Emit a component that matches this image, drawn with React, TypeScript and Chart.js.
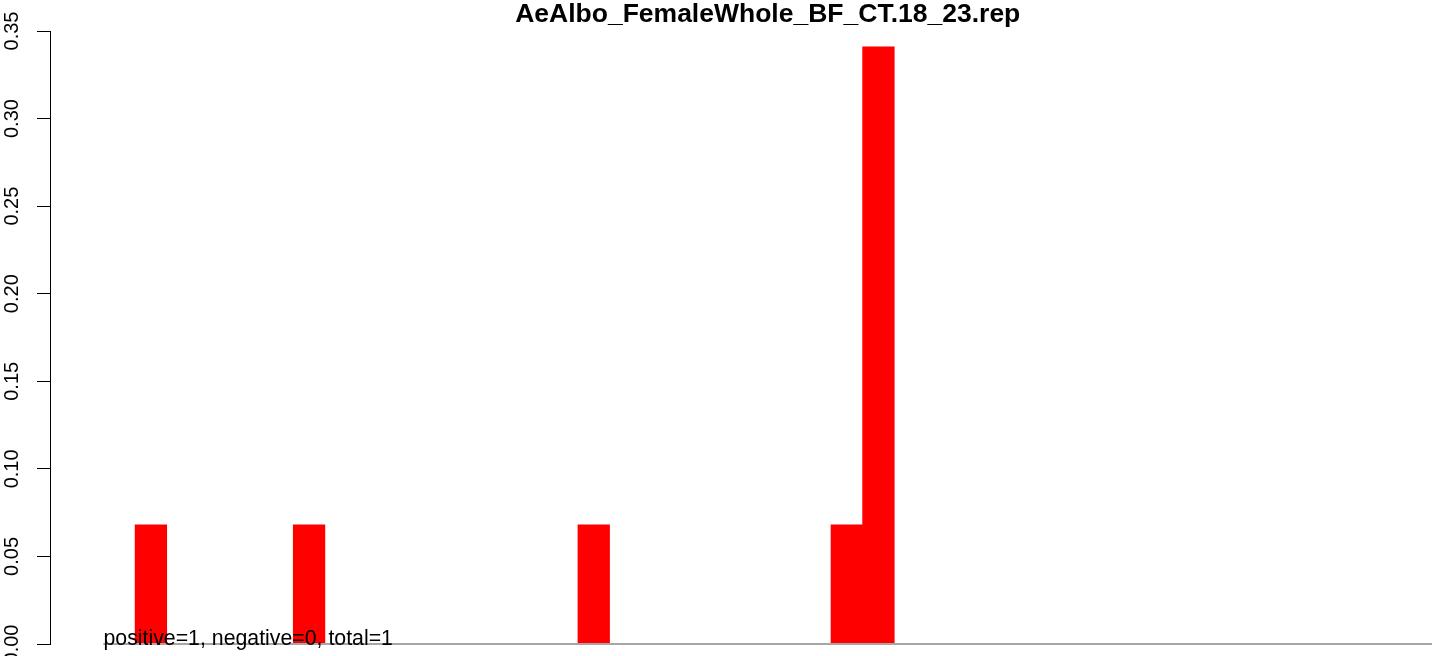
import React, { useEffect, useRef } from "react";
import { Chart, registerables } from "chart.js";

Chart.register(...registerables);

const chartTitle = "AeAlbo_FemaleWhole_BF_CT.18_23.rep";
const footerText = "positive=1, negative=0, total=1";

// 42 histogram bins (bin i spans [i, i+1])
const binValues = [
  0, 0.068, 0, 0, 0, 0, 0.068, 0, 0, 0,
  0, 0, 0, 0, 0, 0.068, 0, 0, 0, 0,
  0, 0, 0, 0.068, 0.341, 0, 0, 0, 0, 0,
  0, 0, 0, 0, 0, 0, 0, 0, 0, 0,
  0, 0,
];

const yTickLabels = ["0.00", "0.05", "0.10", "0.15", "0.20", "0.25", "0.30", "0.35"];
const yTickValues = [0, 0.05, 0.1, 0.15, 0.2, 0.25, 0.3, 0.35];

const FONT = "'Liberation Sans', Arial, Helvetica, sans-serif";

const overlayPlugin = {
  id: "overlay",
  afterDraw(chart: any) {
    const ctx = chart.ctx as CanvasRenderingContext2D;
    const xs = chart.scales.x;
    const ys = chart.scales.y;
    ctx.save();
    // baseline
    const y0 = ys.getPixelForValue(0);
    ctx.strokeStyle = "#a6a6a6";
    ctx.lineWidth = 1.8;
    ctx.beginPath();
    ctx.moveTo(xs.getPixelForValue(0), y0);
    ctx.lineTo(xs.getPixelForValue(binValues.length), y0);
    ctx.stroke();
    // y tick labels, rotated
    ctx.fillStyle = "#000";
    ctx.font = `20px ${FONT}`;
    ctx.textAlign = "center";
    ctx.textBaseline = "alphabetic";
    yTickValues.forEach((v, i) => {
      const py = ys.getPixelForValue(v);
      ctx.save();
      ctx.translate(18, py);
      ctx.rotate(-Math.PI / 2);
      ctx.fillText(yTickLabels[i], 0, 0);
      ctx.restore();
    });
    // title
    ctx.font = `bold 26.5px ${FONT}`;
    ctx.textAlign = "center";
    ctx.fillText(chartTitle, (xs.getPixelForValue(0) + xs.getPixelForValue(binValues.length)) / 2, 22);
    // footer
    ctx.font = `21.3px ${FONT}`;
    ctx.textAlign = "left";
    ctx.fillText(footerText, xs.getPixelForValue(0), y0 + 1);
    ctx.restore();
  },
};

export default function App() {
  const ref = useRef<HTMLCanvasElement | null>(null);
  useEffect(() => {
    if (!ref.current) return;
    const chart = new Chart(ref.current, {
      type: "bar",
      data: {
        datasets: [
          {
            data: binValues.map((v, i) => ({ x: i + 0.5, y: v })),
            backgroundColor: "#ff0000",
            borderWidth: 0,
            barPercentage: 1,
            categoryPercentage: 1,
          },
        ],
      },
      options: {
        animation: false,
        responsive: false,
        devicePixelRatio: 1,
        layout: { padding: { top: 31, bottom: 12, right: 12, left: 0 } },
        plugins: { legend: { display: false }, tooltip: { enabled: false }, title: { display: false } },
        scales: {
          x: {
            type: "linear",
            min: -1.69,
            max: binValues.length,
            display: false,
            afterBuildTicks: (s: any) => {
              s.ticks = [];
            },
          },
          y: {
            min: 0,
            max: 0.35,
            afterBuildTicks: (s: any) => {
              s.ticks = yTickValues.map((v) => ({ value: v }));
            },
            afterFit: (s: any) => {
              s.width = 50;
            },
            ticks: { display: false },
            grid: { drawOnChartArea: false, drawTicks: true, tickLength: 13, color: "#000", lineWidth: 1 },
            border: { display: true, color: "#000", width: 1 },
          },
        },
      },
      plugins: [overlayPlugin],
    });
    return () => chart.destroy();
  }, []);
  return (
    <div style={{ position: "fixed", left: 0, top: 0, width: 1444, height: 656, background: "#fff" }}>
      <canvas ref={ref} width={1444} height={656} style={{ width: 1444, height: 656, display: "block" }} />
    </div>
  );
}
